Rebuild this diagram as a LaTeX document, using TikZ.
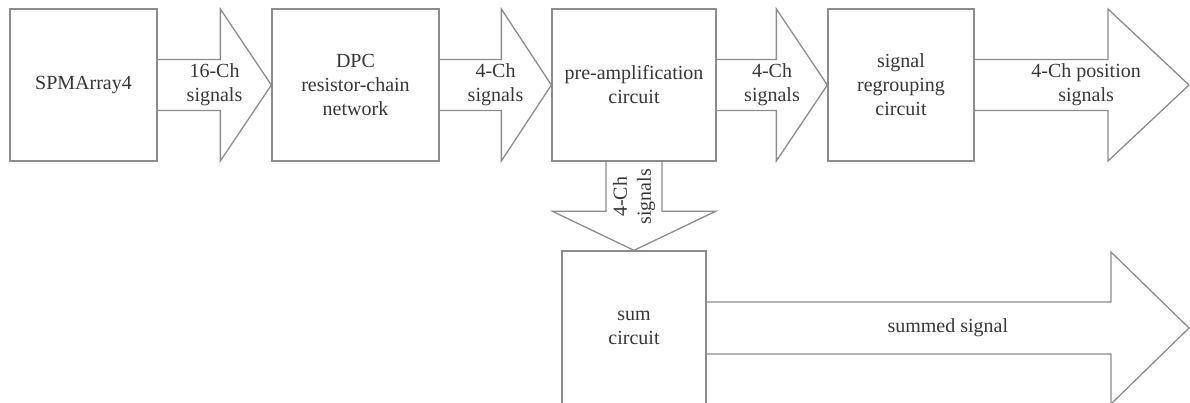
\documentclass[tikz,border=0pt]{standalone}
\usepackage{fontspec}
\setmainfont{Liberation Serif}
\usetikzlibrary{calc}
\definecolor{linegray}{RGB}{140,140,140}
\definecolor{textgray}{RGB}{55,55,55}
% #1 start, #2 tip, #3 head length, #4 shaft half width, #5 head half width
\newcommand{\blockarrowH}[5]{%
  \draw[barrow] ($(#1)+(0,-#4)$) -- ($(#2)+(-#3,-#4)$) -- ($(#2)+(-#3,-#5)$) -- (#2)
    -- ($(#2)+(-#3,#5)$) -- ($(#2)+(-#3,#4)$) -- ($(#1)+(0,#4)$);}
\begin{document}
\begin{tikzpicture}[x=1pt,y=-1pt,
  txt/.style={text=textgray, align=center, font=\fontsize{20}{24}\selectfont},
  box/.style={txt, draw=linegray, line width=1.3pt, fill=white, inner sep=0pt},
  barrow/.style={draw=linegray, line width=1.3pt, line join=miter},
  lbl/.style={txt, inner sep=0pt}]
\useasboundingbox (0,0) rectangle (1190,403);
\clip (0,0) rectangle (1190,403);
% boxes
\node[box, minimum width=147pt, minimum height=152pt] (spm) at (83.5,85) {SPMArray4};
\node[box, minimum width=167pt, minimum height=152pt] (dpc) at (355.5,85) {DPC\\resistor-chain\\network};
\node[box, minimum width=164pt, minimum height=152pt] (pre) at (634,85) {pre-amplification\\circuit};
\node[box, minimum width=146pt, minimum height=152pt] (reg) at (901,85) {signal\\regrouping\\circuit};
\node[box, minimum width=144pt, minimum height=154pt] (sum) at (634,328) {sum\\circuit};
\coordinate (out1) at (1189,85);
\coordinate (out2) at (1189,328);
% block arrows
\blockarrowH{spm.east}{dpc.west}{51}{25.5}{76}
\blockarrowH{dpc.east}{pre.west}{50}{25.5}{76}
\blockarrowH{pre.east}{reg.west}{51}{25.5}{76}
\blockarrowH{reg.east}{out1}{81}{25.5}{76}
\blockarrowH{sum.east}{out2}{78}{26}{76}
\draw[barrow] ($(pre.south)+(-28,0)$) -- ($(sum.north)+(-28,-39)$) -- ($(sum.north)+(-81.5,-39)$)
  -- (sum.north) -- ($(sum.north)+(81.5,-39)$) -- ($(sum.north)+(28,-39)$) -- ($(pre.south)+(28,0)$);
% labels
\path (spm.east) -- (dpc.west) node[midway, lbl] (l1) {16-Ch\\signals};
\path (dpc.east) -- (pre.west) node[midway, lbl] (l2) {4-Ch\\signals};
\path (pre.east) -- (reg.west) node[midway, lbl] (l3) {4-Ch\\signals};
\path (reg.east) -- (out1) node[pos=0.52, lbl] (l4) {4-Ch position\\signals};
\path (sum.east) -- (out2) node[midway, lbl] (l5) {summed signal};
\node[lbl, rotate=90] (l6) at (634,197) {4-Ch\\signals};
\end{tikzpicture}
\end{document}
